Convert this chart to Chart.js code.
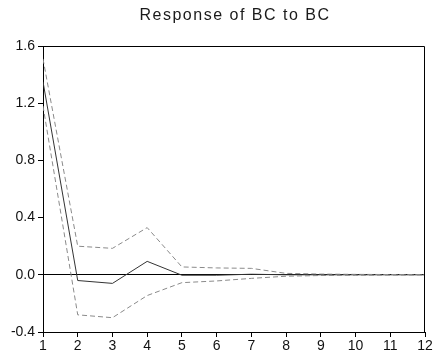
<!DOCTYPE html>
<html><head><meta charset="utf-8">
<script src="https://cdn.jsdelivr.net/npm/chart.js@4"></script>
<style>html,body{margin:0;padding:0;background:#fff}#w{width:434px;height:358px}</style>
</head><body><div id="w"><canvas id="c"></canvas></div>
<script>
const periods = [1,2,3,4,5,6,7,8,9,10,11,12];
const response = [1.35,-0.04,-0.06,0.094,-0.003,-0.003,0.004,0.0,0.0,0.0,0.0,0.0];
const upperBand = [1.51,0.20,0.185,0.33,0.055,0.048,0.045,0.01,0.005,0.003,0.002,0.001];
const lowerBand = [1.18,-0.28,-0.30,-0.145,-0.055,-0.043,-0.025,-0.01,-0.005,-0.003,-0.002,-0.001];
const yTicks = [-0.4,0.0,0.4,0.8,1.2,1.6];
const titleText = 'Response of BC to BC';

const pts = arr => arr.map((v,i)=>({x:periods[i], y:v}));
const frame = {
  id:'frame',
  beforeDraw(chart){ chart.ctx.letterSpacing = '0px'; },
  afterDraw(chart){
    const {ctx, chartArea:a} = chart;
    ctx.save();
    ctx.strokeStyle='#000'; ctx.lineWidth=1;
    ctx.beginPath();
    ctx.moveTo(a.left, a.top+0.5); ctx.lineTo(a.right-0.5, a.top+0.5); ctx.lineTo(a.right-0.5, a.bottom);
    ctx.stroke();
    ctx.letterSpacing = '1.5px';
    ctx.fillStyle = '#1a1a1a';
    ctx.font = '16px "Liberation Sans"';
    ctx.textAlign = 'center'; ctx.textBaseline = 'middle';
    ctx.fillText(titleText, (a.left + a.right)/2 + 1, 16);
    ctx.letterSpacing = '0px';
    ctx.restore();
  }
};
new Chart(document.getElementById('c'), {
  type:'line',
  data:{datasets:[
    {data:pts(upperBand), borderColor:'#8a8a8a', borderWidth:1, borderDash:[5,3], pointRadius:0, fill:false, tension:0},
    {data:pts(lowerBand), borderColor:'#8a8a8a', borderWidth:1, borderDash:[5,3], pointRadius:0, fill:false, tension:0},
    {data:pts(response), borderColor:'#333', borderWidth:1, pointRadius:0, fill:false, tension:0}
  ]},
  options:{
    responsive:true, maintainAspectRatio:false, animation:false,
    layout:{padding:{left:0,right:9,top:46,bottom:1}},
    plugins:{ legend:{display:false}, tooltip:{enabled:false}, title:{display:false} },
    scales:{
      x:{type:'linear', min:1, max:12,
        afterBuildTicks(s){ s.ticks = periods.map(v=>({value:v})); },
        ticks:{color:'#111', font:{family:'Liberation Sans', size:14}, padding:1, maxRotation:0, autoSkip:false},
        grid:{drawOnChartArea:false, tickLength:5, tickColor:'#000'},
        border:{color:'#000'},
        afterFit(s){ s.height = 25; }
      },
      y:{min:-0.4, max:1.6,
        afterBuildTicks(s){ s.ticks = yTicks.map(v=>({value:v})); },
        ticks:{color:'#111', font:{family:'Liberation Sans', size:14}, padding:3, callback:v=>Number(v).toFixed(1)},
        grid:{drawOnChartArea:true, tickLength:5, tickColor:'#000', color:c=>Math.abs(c.tick.value)<1e-9?'#000':'rgba(0,0,0,0)'},
        border:{color:'#000'},
        afterFit(s){ s.width = 43; }
      }
    }
  },
  plugins:[frame]
});
</script></body></html>
